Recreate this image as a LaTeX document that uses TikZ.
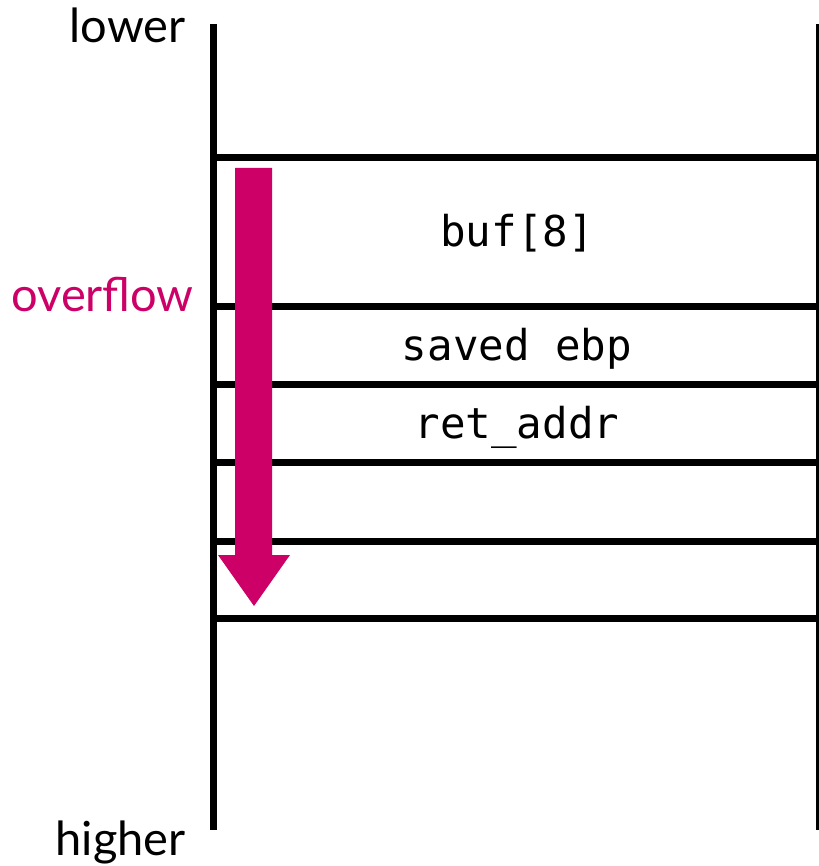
\documentclass[tikz,border=0pt]{standalone}
\usepackage{fontspec}
\setmainfont{Lato}
\setmonofont{DejaVu Sans Mono}
\definecolor{ovf}{RGB}{204,0,102}
\begin{document}
\begin{tikzpicture}[x=1pt,y=-1pt,
  wall/.style={line width=7pt,black},
  sep/.style={line width=7pt,black},
  lbl/.style={font=\fontsize{47}{50}\selectfont,inner sep=0pt},
  code/.style={font=\fontsize{42.5}{45}\ttfamily,inner sep=0pt}]
\useasboundingbox (0,0) rectangle (818,866);
\coordinate (lt) at (213,24);
\coordinate (lb) at (213,830);
\coordinate (rt) at (819,24);
\coordinate (rb) at (819,830);
\draw[wall] (lt) -- (lb);
\draw[wall] (rt) -- (rb);
\foreach \y/\n in {158/a,306/b,384/c,462/d,541/e,618/f}{
  \coordinate (\n l) at (210,\y);
  \coordinate (\n r) at (821,\y);
  \draw[sep] (\n l) -- (\n r);
}
\fill[ovf] (235,168) -- (272,168) -- (272,555) -- (290,555) -- (254,606) -- (218,555) -- (235,555) -- cycle;
\node[lbl,anchor=base east] (lower) at (186,43) {lower};
\node[lbl,anchor=base east] (higher) at (186,855) {higher};
\node[lbl,anchor=base east,text=ovf] (ovflabel) at (194,311) {overflow};
\node[code,anchor=base] (buf) at (517,247) {buf[8]};
\node[code,anchor=base] (ebp) at (517,360) {saved ebp};
\node[code,anchor=base] (ret) at (517,438) {ret\_addr};
\end{tikzpicture}
\end{document}
